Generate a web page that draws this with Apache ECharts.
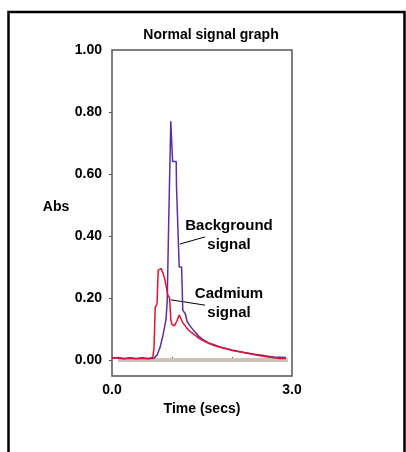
<!DOCTYPE html>
<html>
<head>
<meta charset="utf-8">
<script src="https://cdn.jsdelivr.net/npm/echarts@6/dist/echarts.min.js"></script>
<style>
    html, body { margin: 0; padding: 0; background: #fff; }
    #chart { width: 406px; height: 452px; }
</style>
</head>
<body>
<div id="chart"></div>
<script>
    // background signal (purple): time in secs, absorbance
    var backgroundTime = [0, 0.1, 0.2, 0.3, 0.4, 0.5, 0.6, 0.7, 0.75, 0.8, 0.85, 0.9, 0.92, 0.94, 0.945, 0.975,
        0.98, 1.0, 1.01, 1.07, 1.075, 1.105, 1.12, 1.16, 1.18, 1.22, 1.25, 1.3, 1.35, 1.4, 1.45, 1.5,
        1.6, 1.7, 1.8, 1.9, 2.0, 2.1, 2.2, 2.3, 2.4, 2.5, 2.6, 2.7, 2.8, 2.9];
    var backgroundAbs = [0.008, 0.006, 0.004, 0.007, 0.005, 0.006, 0.004, 0.006, 0.015, 0.04, 0.08, 0.13, 0.19, 0.19, 0.445, 0.445,
        0.77, 0.77, 0.64, 0.64, 0.56, 0.56, 0.30, 0.30, 0.16, 0.15, 0.125, 0.11, 0.098, 0.087, 0.076, 0.068,
        0.056, 0.049, 0.042, 0.037, 0.032, 0.028, 0.024, 0.021, 0.018, 0.015, 0.012, 0.01, 0.009, 0.008];
    // cadmium signal (red)
    var cadmiumTime = [0, 0.1, 0.2, 0.3, 0.4, 0.5, 0.6, 0.68, 0.70, 0.72, 0.75, 0.77, 0.82, 0.85, 0.88, 0.91,
        0.93, 0.96, 0.98, 1.0, 1.04, 1.08, 1.12, 1.15, 1.18, 1.22, 1.26, 1.3, 1.35, 1.4, 1.45, 1.5,
        1.6, 1.7, 1.8, 1.9, 2.0, 2.1, 2.2, 2.3, 2.4, 2.5, 2.6, 2.7, 2.8, 2.9];
    var cadmiumAbs = [0.006, 0.008, 0.005, 0.006, 0.004, 0.007, 0.005, 0.008, 0.04, 0.17, 0.18, 0.29, 0.295, 0.28, 0.26, 0.23,
        0.21, 0.20, 0.13, 0.115, 0.11, 0.125, 0.145, 0.14, 0.12, 0.11, 0.10, 0.092, 0.085, 0.078, 0.07, 0.064,
        0.055, 0.047, 0.041, 0.036, 0.031, 0.027, 0.024, 0.02, 0.016, 0.013, 0.01, 0.007, 0.005, 0.005];
    var baselineTime = [0.1, 2.93];
    var yLabelValues = [0, 0.2, 0.4, 0.6, 0.8, 1.0];
    var yTickValues = [0, 0.2, 0.4, 0.6, 0.8];
    var xLabelValues = [0, 3];
    var xTickValues = [1, 2];

    // annotation anchors in data units: [line start, line end]
    var backgroundNote = [[1.13, 0.374], [1.55, 0.397]];
    var cadmiumNote = [[0.98, 0.194], [1.55, 0.177]];

    function pairs(xs, ys) {
        var out = [];
        for (var i = 0; i < xs.length; i++) out.push([xs[i], ys[i]]);
        return out;
    }

    var font = "'Liberation Sans', Arial, sans-serif";
    var myChart = echarts.init(document.getElementById("chart"));
    myChart.setOption({
        animation: false,
        title: {
            text: "Normal signal graph",
            left: 206,
            top: 23,
            textAlign: "center",
            textStyle: { fontFamily: font, fontSize: 14, fontWeight: "bold", color: "#000" }
        },
        grid: {
            left: 112, top: 50, right: 114, bottom: 76,
            show: true, borderColor: "#555", borderWidth: 1.5
        },
        xAxis: {
            type: "value",
            min: 0, max: 3,
            axisLine: { show: false },
            splitLine: { show: false },
            axisTick: { show: true, inside: true, length: 3, customValues: xTickValues, lineStyle: { color: "#555" } },
            axisLabel: {
                customValues: xLabelValues, margin: 7,
                formatter: function (v) { return v.toFixed(1); },
                fontFamily: font, fontSize: 14, fontWeight: "bold", color: "#000"
            },
            name: "Time (secs)",
            nameLocation: "middle",
            nameGap: 24,
            nameTextStyle: { fontFamily: font, fontSize: 14, fontWeight: "bold", color: "#000" }
        },
        yAxis: {
            type: "value",
            min: -0.0516, max: 1.0,
            axisLine: { show: false },
            splitLine: { show: false },
            axisTick: { show: true, length: 3, customValues: yTickValues, lineStyle: { color: "#555" } },
            axisLabel: {
                customValues: yLabelValues, margin: 10,
                formatter: function (v) { return v.toFixed(2); },
                fontFamily: font, fontSize: 14, fontWeight: "bold", color: "#000"
            }
        },
        series: [
            {
                name: "baseline",
                type: "line",
                data: pairs(baselineTime, [0, 0]),
                symbol: "none",
                lineStyle: { color: "#c9c1ba", width: 4 },
                z: 1
            },
            {
                name: "Background signal",
                type: "line",
                data: pairs(backgroundTime, backgroundAbs),
                symbol: "none",
                lineStyle: { color: "#5a2fa0", width: 1.5 },
                z: 2
            },
            {
                name: "Cadmium signal",
                type: "line",
                data: pairs(cadmiumTime, cadmiumAbs),
                symbol: "none",
                lineStyle: { color: "#e8102c", width: 1.5 },
                z: 3
            }
        ]
    });

    // annotations placed from data coordinates
    function px(p) { return myChart.convertToPixel({ gridIndex: 0 }, p); }
    var b0 = px(backgroundNote[0]), b1 = px(backgroundNote[1]);
    var c0 = px(cadmiumNote[0]), c1 = px(cadmiumNote[1]);
    var noteStyle = { fontFamily: font, fontSize: 15, fontWeight: "bold", fill: "#000", textAlign: "center", lineHeight: 19 };
    myChart.setOption({
        graphic: [
            { type: "rect", shape: { x: 8.5, y: 12, width: 396, height: 500 }, style: { fill: null, stroke: "#000", lineWidth: 2.5 } },
            { type: "text", x: 56, y: 207, style: { text: "Abs", fontFamily: font, fontSize: 14, fontWeight: "bold", fill: "#000", textAlign: "center", textVerticalAlign: "middle" } },
            { type: "line", shape: { x1: b0[0], y1: b0[1], x2: b1[0], y2: b1[1] }, style: { stroke: "#000", lineWidth: 1 } },
            { type: "text", x: 229, y: 216, style: Object.assign({ text: "Background\nsignal" }, noteStyle) },
            { type: "line", shape: { x1: c0[0], y1: c0[1], x2: c1[0], y2: c1[1] }, style: { stroke: "#000", lineWidth: 1 } },
            { type: "text", x: 229, y: 284, style: Object.assign({ text: "Cadmium\nsignal" }, noteStyle) }
        ]
    });
</script>
</body>
</html>
